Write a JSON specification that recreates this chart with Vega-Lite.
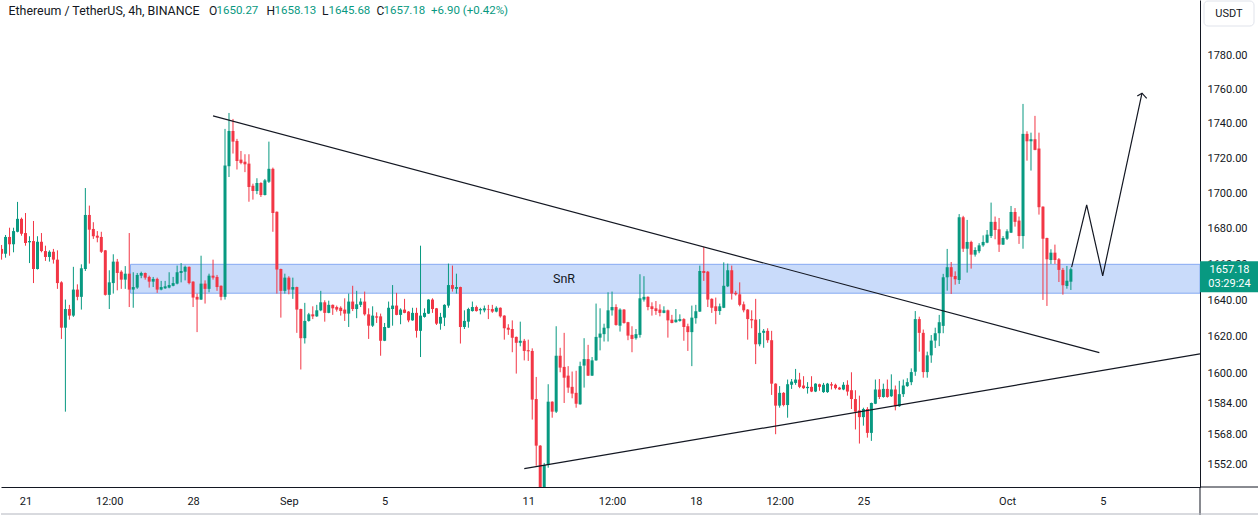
{
"$schema":"https://vega.github.io/schema/vega-lite/v6.json",
"width":1199,"height":487,"padding":0,"background":"white",
"config":{"view":{"stroke":null},"font":"Roboto","scale":{"continuousPadding":0},"axis":{"grid":false,"ticks":false}},
"datasets":{
"candles":[
{"t":"2023-08-20T00:00Z","o":1668.5,"h":1670.7,"l":1662.5,"c":1665.8},
{"t":"2023-08-20T04:00Z","o":1665.8,"h":1676.3,"l":1663.6,"c":1675.2},
{"t":"2023-08-20T08:00Z","o":1675.2,"h":1680.4,"l":1664.7,"c":1671.1},
{"t":"2023-08-20T12:00Z","o":1671.1,"h":1680.4,"l":1666.6,"c":1678.5},
{"t":"2023-08-20T16:00Z","o":1678.1,"h":1695.0,"l":1677.8,"c":1685.4},
{"t":"2023-08-20T20:00Z","o":1685.4,"h":1686.1,"l":1675.9,"c":1677.0},
{"t":"2023-08-21T00:00Z","o":1677.4,"h":1688.7,"l":1670.3,"c":1671.8},
{"t":"2023-08-21T04:00Z","o":1672.2,"h":1675.6,"l":1660.6,"c":1672.9},
{"t":"2023-08-21T08:00Z","o":1672.9,"h":1684.2,"l":1649.5,"c":1657.3},
{"t":"2023-08-21T12:00Z","o":1657.3,"h":1675.6,"l":1657.0,"c":1672.5},
{"t":"2023-08-21T16:00Z","o":1672.5,"h":1677.4,"l":1666.6,"c":1667.3},
{"t":"2023-08-21T20:00Z","o":1667.3,"h":1670.3,"l":1661.8,"c":1664.0},
{"t":"2023-08-22T00:00Z","o":1664.0,"h":1667.7,"l":1661.4,"c":1666.9},
{"t":"2023-08-22T04:00Z","o":1666.9,"h":1668.5,"l":1660.3,"c":1662.5},
{"t":"2023-08-22T08:00Z","o":1662.5,"h":1667.7,"l":1646.3,"c":1649.5},
{"t":"2023-08-22T12:00Z","o":1649.9,"h":1650.5,"l":1618.9,"c":1625.0},
{"t":"2023-08-22T16:00Z","o":1625.0,"h":1640.4,"l":1579.9,"c":1635.2},
{"t":"2023-08-22T20:00Z","o":1635.2,"h":1637.5,"l":1629.4,"c":1631.6},
{"t":"2023-08-23T00:00Z","o":1631.6,"h":1658.5,"l":1630.9,"c":1645.9},
{"t":"2023-08-23T04:00Z","o":1645.9,"h":1648.8,"l":1640.0,"c":1641.9},
{"t":"2023-08-23T08:00Z","o":1641.9,"h":1659.9,"l":1634.9,"c":1657.7},
{"t":"2023-08-23T12:00Z","o":1657.3,"h":1702.9,"l":1656.2,"c":1687.6},
{"t":"2023-08-23T16:00Z","o":1687.6,"h":1692.9,"l":1660.3,"c":1679.3},
{"t":"2023-08-23T20:00Z","o":1679.7,"h":1683.5,"l":1674.1,"c":1675.6},
{"t":"2023-08-24T00:00Z","o":1675.9,"h":1678.5,"l":1672.2,"c":1674.8},
{"t":"2023-08-24T04:00Z","o":1675.2,"h":1678.1,"l":1666.2,"c":1666.9},
{"t":"2023-08-24T08:00Z","o":1667.7,"h":1667.9,"l":1642.6,"c":1643.0},
{"t":"2023-08-24T12:00Z","o":1643.0,"h":1656.6,"l":1635.2,"c":1649.9},
{"t":"2023-08-24T16:00Z","o":1649.5,"h":1665.5,"l":1643.7,"c":1661.4},
{"t":"2023-08-24T20:00Z","o":1661.4,"h":1662.9,"l":1645.5,"c":1655.1},
{"t":"2023-08-25T00:00Z","o":1655.8,"h":1656.6,"l":1646.3,"c":1651.4},
{"t":"2023-08-25T04:00Z","o":1651.4,"h":1658.9,"l":1646.3,"c":1654.7},
{"t":"2023-08-25T08:00Z","o":1654.7,"h":1677.4,"l":1636.3,"c":1645.9},
{"t":"2023-08-25T12:00Z","o":1645.9,"h":1655.5,"l":1635.9,"c":1647.3},
{"t":"2023-08-25T16:00Z","o":1647.0,"h":1655.1,"l":1646.3,"c":1654.0},
{"t":"2023-08-25T20:00Z","o":1653.6,"h":1655.8,"l":1652.2,"c":1655.1},
{"t":"2023-08-26T00:00Z","o":1655.1,"h":1655.3,"l":1651.4,"c":1652.5},
{"t":"2023-08-26T04:00Z","o":1652.9,"h":1653.6,"l":1647.0,"c":1650.3},
{"t":"2023-08-26T08:00Z","o":1650.3,"h":1652.9,"l":1647.3,"c":1651.8},
{"t":"2023-08-26T12:00Z","o":1651.8,"h":1652.5,"l":1644.1,"c":1645.9},
{"t":"2023-08-26T16:00Z","o":1645.9,"h":1650.7,"l":1645.5,"c":1647.3},
{"t":"2023-08-26T20:00Z","o":1646.6,"h":1650.7,"l":1646.3,"c":1647.7},
{"t":"2023-08-27T00:00Z","o":1647.0,"h":1655.5,"l":1646.6,"c":1648.4},
{"t":"2023-08-27T04:00Z","o":1648.0,"h":1652.9,"l":1647.7,"c":1649.5},
{"t":"2023-08-27T08:00Z","o":1649.2,"h":1659.2,"l":1648.8,"c":1655.5},
{"t":"2023-08-27T12:00Z","o":1655.1,"h":1660.6,"l":1649.9,"c":1656.2},
{"t":"2023-08-27T16:00Z","o":1655.8,"h":1659.2,"l":1651.0,"c":1658.5},
{"t":"2023-08-27T20:00Z","o":1658.5,"h":1658.7,"l":1648.8,"c":1649.5},
{"t":"2023-08-28T00:00Z","o":1650.3,"h":1650.5,"l":1636.3,"c":1641.5},
{"t":"2023-08-28T04:00Z","o":1641.9,"h":1643.7,"l":1622.6,"c":1640.4},
{"t":"2023-08-28T08:00Z","o":1640.4,"h":1664.7,"l":1640.2,"c":1649.2},
{"t":"2023-08-28T12:00Z","o":1649.2,"h":1651.0,"l":1638.2,"c":1646.3},
{"t":"2023-08-28T16:00Z","o":1646.3,"h":1654.7,"l":1644.4,"c":1653.6},
{"t":"2023-08-28T20:00Z","o":1653.6,"h":1662.5,"l":1651.4,"c":1652.5},
{"t":"2023-08-29T00:00Z","o":1652.9,"h":1654.0,"l":1645.2,"c":1647.3},
{"t":"2023-08-29T04:00Z","o":1648.0,"h":1648.2,"l":1640.0,"c":1641.9},
{"t":"2023-08-29T08:00Z","o":1641.9,"h":1737.0,"l":1640.4,"c":1715.8},
{"t":"2023-08-29T12:00Z","o":1715.4,"h":1746.3,"l":1709.2,"c":1735.8},
{"t":"2023-08-29T16:00Z","o":1735.8,"h":1742.8,"l":1722.7,"c":1729.6},
{"t":"2023-08-29T20:00Z","o":1730.0,"h":1731.2,"l":1713.5,"c":1718.4},
{"t":"2023-08-30T00:00Z","o":1719.2,"h":1724.2,"l":1716.5,"c":1717.3},
{"t":"2023-08-30T04:00Z","o":1718.0,"h":1722.3,"l":1712.0,"c":1716.5},
{"t":"2023-08-30T08:00Z","o":1716.9,"h":1722.3,"l":1695.1,"c":1703.5},
{"t":"2023-08-30T12:00Z","o":1704.2,"h":1705.4,"l":1696.3,"c":1701.2},
{"t":"2023-08-30T16:00Z","o":1701.2,"h":1708.5,"l":1699.4,"c":1705.8},
{"t":"2023-08-30T20:00Z","o":1705.8,"h":1706.2,"l":1697.8,"c":1698.9},
{"t":"2023-08-31T00:00Z","o":1698.9,"h":1708.1,"l":1698.7,"c":1707.3},
{"t":"2023-08-31T04:00Z","o":1706.5,"h":1729.6,"l":1705.8,"c":1713.9},
{"t":"2023-08-31T08:00Z","o":1713.9,"h":1714.6,"l":1678.1,"c":1688.7},
{"t":"2023-08-31T12:00Z","o":1689.4,"h":1689.6,"l":1643.7,"c":1657.0},
{"t":"2023-08-31T16:00Z","o":1657.3,"h":1657.5,"l":1630.5,"c":1645.2},
{"t":"2023-08-31T20:00Z","o":1645.2,"h":1654.7,"l":1643.7,"c":1652.5},
{"t":"2023-09-01T00:00Z","o":1652.5,"h":1653.3,"l":1643.3,"c":1645.9},
{"t":"2023-09-01T04:00Z","o":1645.9,"h":1652.5,"l":1640.8,"c":1647.3},
{"t":"2023-09-01T08:00Z","o":1647.3,"h":1647.5,"l":1622.2,"c":1634.9},
{"t":"2023-09-01T12:00Z","o":1635.2,"h":1635.4,"l":1602.4,"c":1619.3},
{"t":"2023-09-01T16:00Z","o":1619.3,"h":1638.6,"l":1616.4,"c":1628.7},
{"t":"2023-09-01T20:00Z","o":1628.7,"h":1633.1,"l":1628.3,"c":1632.3},
{"t":"2023-09-02T00:00Z","o":1632.3,"h":1636.7,"l":1629.7,"c":1631.2},
{"t":"2023-09-02T04:00Z","o":1631.2,"h":1637.5,"l":1630.9,"c":1634.5},
{"t":"2023-09-02T08:00Z","o":1634.5,"h":1645.2,"l":1634.0,"c":1638.9},
{"t":"2023-09-02T12:00Z","o":1638.9,"h":1640.0,"l":1628.3,"c":1633.1},
{"t":"2023-09-02T16:00Z","o":1633.1,"h":1639.8,"l":1632.9,"c":1637.5},
{"t":"2023-09-02T20:00Z","o":1637.5,"h":1637.7,"l":1632.0,"c":1635.6},
{"t":"2023-09-03T00:00Z","o":1636.3,"h":1637.1,"l":1633.8,"c":1634.9},
{"t":"2023-09-03T04:00Z","o":1635.9,"h":1636.7,"l":1631.6,"c":1634.1},
{"t":"2023-09-03T08:00Z","o":1634.9,"h":1641.1,"l":1628.7,"c":1632.7},
{"t":"2023-09-03T12:00Z","o":1632.7,"h":1643.7,"l":1625.4,"c":1639.3},
{"t":"2023-09-03T16:00Z","o":1639.3,"h":1648.0,"l":1634.1,"c":1635.2},
{"t":"2023-09-03T20:00Z","o":1635.2,"h":1645.2,"l":1630.2,"c":1637.8},
{"t":"2023-09-04T00:00Z","o":1637.5,"h":1641.1,"l":1636.3,"c":1639.3},
{"t":"2023-09-04T04:00Z","o":1639.3,"h":1644.8,"l":1631.6,"c":1632.3},
{"t":"2023-09-04T08:00Z","o":1632.3,"h":1635.6,"l":1618.9,"c":1626.1},
{"t":"2023-09-04T12:00Z","o":1626.1,"h":1636.7,"l":1625.4,"c":1631.6},
{"t":"2023-09-04T16:00Z","o":1631.2,"h":1633.4,"l":1627.6,"c":1630.5},
{"t":"2023-09-04T20:00Z","o":1631.2,"h":1632.7,"l":1609.8,"c":1617.9},
{"t":"2023-09-05T00:00Z","o":1617.9,"h":1627.6,"l":1617.7,"c":1625.4},
{"t":"2023-09-05T04:00Z","o":1625.0,"h":1639.3,"l":1624.8,"c":1635.9},
{"t":"2023-09-05T08:00Z","o":1635.2,"h":1648.4,"l":1626.1,"c":1637.1},
{"t":"2023-09-05T12:00Z","o":1637.1,"h":1644.1,"l":1631.8,"c":1632.0},
{"t":"2023-09-05T16:00Z","o":1632.0,"h":1635.6,"l":1626.9,"c":1634.9},
{"t":"2023-09-05T20:00Z","o":1634.9,"h":1640.8,"l":1632.9,"c":1633.1},
{"t":"2023-09-06T00:00Z","o":1633.8,"h":1634.1,"l":1628.0,"c":1629.0},
{"t":"2023-09-06T04:00Z","o":1629.0,"h":1635.9,"l":1628.8,"c":1633.1},
{"t":"2023-09-06T08:00Z","o":1633.1,"h":1635.9,"l":1619.6,"c":1623.3},
{"t":"2023-09-06T12:00Z","o":1623.3,"h":1670.3,"l":1609.1,"c":1631.6},
{"t":"2023-09-06T16:00Z","o":1630.9,"h":1635.6,"l":1630.5,"c":1633.1},
{"t":"2023-09-06T20:00Z","o":1632.7,"h":1640.6,"l":1632.5,"c":1640.4},
{"t":"2023-09-07T00:00Z","o":1640.4,"h":1641.1,"l":1633.1,"c":1635.2},
{"t":"2023-09-07T04:00Z","o":1635.6,"h":1635.8,"l":1626.5,"c":1627.2},
{"t":"2023-09-07T08:00Z","o":1627.2,"h":1633.1,"l":1623.9,"c":1630.9},
{"t":"2023-09-07T12:00Z","o":1630.5,"h":1637.8,"l":1625.9,"c":1637.5},
{"t":"2023-09-07T16:00Z","o":1637.1,"h":1660.3,"l":1635.9,"c":1648.4},
{"t":"2023-09-07T20:00Z","o":1648.4,"h":1659.2,"l":1644.8,"c":1646.3},
{"t":"2023-09-08T00:00Z","o":1646.3,"h":1654.7,"l":1643.7,"c":1647.3},
{"t":"2023-09-08T04:00Z","o":1647.3,"h":1647.5,"l":1616.4,"c":1625.4},
{"t":"2023-09-08T08:00Z","o":1625.4,"h":1634.5,"l":1624.3,"c":1628.7},
{"t":"2023-09-08T12:00Z","o":1628.3,"h":1635.9,"l":1625.0,"c":1635.2},
{"t":"2023-09-08T16:00Z","o":1634.1,"h":1639.3,"l":1633.8,"c":1636.3},
{"t":"2023-09-08T20:00Z","o":1636.3,"h":1637.1,"l":1633.8,"c":1634.1},
{"t":"2023-09-09T00:00Z","o":1634.5,"h":1635.9,"l":1632.3,"c":1635.2},
{"t":"2023-09-09T04:00Z","o":1634.5,"h":1637.1,"l":1633.4,"c":1635.6},
{"t":"2023-09-09T08:00Z","o":1635.2,"h":1637.5,"l":1629.7,"c":1634.9},
{"t":"2023-09-09T12:00Z","o":1635.2,"h":1637.5,"l":1633.1,"c":1633.8},
{"t":"2023-09-09T16:00Z","o":1633.8,"h":1636.7,"l":1633.4,"c":1635.9},
{"t":"2023-09-09T20:00Z","o":1635.9,"h":1636.1,"l":1630.5,"c":1631.2},
{"t":"2023-09-10T00:00Z","o":1631.6,"h":1631.8,"l":1618.5,"c":1624.7},
{"t":"2023-09-10T04:00Z","o":1625.0,"h":1626.9,"l":1621.1,"c":1623.9},
{"t":"2023-09-10T08:00Z","o":1624.3,"h":1629.0,"l":1611.7,"c":1619.6},
{"t":"2023-09-10T12:00Z","o":1620.0,"h":1620.2,"l":1600.2,"c":1616.8},
{"t":"2023-09-10T16:00Z","o":1616.8,"h":1628.3,"l":1614.9,"c":1617.9},
{"t":"2023-09-10T20:00Z","o":1617.9,"h":1618.9,"l":1607.3,"c":1612.4},
{"t":"2023-09-11T00:00Z","o":1612.8,"h":1618.5,"l":1607.0,"c":1612.2},
{"t":"2023-09-11T04:00Z","o":1612.4,"h":1613.8,"l":1575.7,"c":1586.3},
{"t":"2023-09-11T08:00Z","o":1586.6,"h":1598.4,"l":1551.5,"c":1562.0},
{"t":"2023-09-11T12:00Z","o":1562.0,"h":1562.3,"l":1531.0,"c":1538.0},
{"t":"2023-09-11T16:00Z","o":1538.0,"h":1553.0,"l":1532.0,"c":1551.9},
{"t":"2023-09-11T20:00Z","o":1551.9,"h":1594.5,"l":1550.5,"c":1585.2},
{"t":"2023-09-12T00:00Z","o":1585.2,"h":1585.4,"l":1576.7,"c":1579.9},
{"t":"2023-09-12T04:00Z","o":1579.9,"h":1625.8,"l":1579.2,"c":1609.8},
{"t":"2023-09-12T08:00Z","o":1609.8,"h":1614.1,"l":1600.9,"c":1603.4},
{"t":"2023-09-12T12:00Z","o":1603.8,"h":1622.2,"l":1584.5,"c":1598.0},
{"t":"2023-09-12T16:00Z","o":1599.1,"h":1604.2,"l":1589.9,"c":1592.7},
{"t":"2023-09-12T20:00Z","o":1593.1,"h":1601.3,"l":1587.0,"c":1589.5},
{"t":"2023-09-13T00:00Z","o":1589.9,"h":1601.7,"l":1582.0,"c":1584.1},
{"t":"2023-09-13T04:00Z","o":1583.8,"h":1606.6,"l":1583.6,"c":1604.2},
{"t":"2023-09-13T08:00Z","o":1604.5,"h":1619.3,"l":1592.7,"c":1608.0},
{"t":"2023-09-13T12:00Z","o":1608.0,"h":1615.7,"l":1598.9,"c":1599.1},
{"t":"2023-09-13T16:00Z","o":1599.1,"h":1609.1,"l":1598.9,"c":1607.3},
{"t":"2023-09-13T20:00Z","o":1607.3,"h":1638.2,"l":1607.1,"c":1620.0},
{"t":"2023-09-14T00:00Z","o":1619.6,"h":1635.6,"l":1612.7,"c":1621.8},
{"t":"2023-09-14T04:00Z","o":1621.5,"h":1627.2,"l":1617.5,"c":1625.0},
{"t":"2023-09-14T08:00Z","o":1624.7,"h":1644.4,"l":1617.5,"c":1634.5},
{"t":"2023-09-14T12:00Z","o":1634.5,"h":1644.8,"l":1631.6,"c":1636.3},
{"t":"2023-09-14T16:00Z","o":1636.3,"h":1637.8,"l":1626.1,"c":1626.5},
{"t":"2023-09-14T20:00Z","o":1626.1,"h":1635.6,"l":1622.9,"c":1634.9},
{"t":"2023-09-15T00:00Z","o":1634.9,"h":1635.2,"l":1627.2,"c":1627.6},
{"t":"2023-09-15T04:00Z","o":1628.0,"h":1628.2,"l":1618.2,"c":1620.7},
{"t":"2023-09-15T08:00Z","o":1621.1,"h":1625.8,"l":1611.7,"c":1618.9},
{"t":"2023-09-15T12:00Z","o":1619.3,"h":1624.3,"l":1618.5,"c":1621.5},
{"t":"2023-09-15T16:00Z","o":1621.1,"h":1654.4,"l":1619.6,"c":1641.1},
{"t":"2023-09-15T20:00Z","o":1640.4,"h":1653.3,"l":1639.3,"c":1641.9},
{"t":"2023-09-16T00:00Z","o":1641.9,"h":1642.2,"l":1634.5,"c":1636.3},
{"t":"2023-09-16T04:00Z","o":1636.7,"h":1638.9,"l":1631.6,"c":1635.2},
{"t":"2023-09-16T08:00Z","o":1635.6,"h":1639.6,"l":1632.0,"c":1634.1},
{"t":"2023-09-16T12:00Z","o":1634.9,"h":1637.8,"l":1631.2,"c":1633.1},
{"t":"2023-09-16T16:00Z","o":1633.1,"h":1636.7,"l":1632.9,"c":1634.5},
{"t":"2023-09-16T20:00Z","o":1634.5,"h":1634.9,"l":1619.6,"c":1629.0},
{"t":"2023-09-17T00:00Z","o":1629.4,"h":1632.0,"l":1627.4,"c":1627.6},
{"t":"2023-09-17T04:00Z","o":1628.0,"h":1635.2,"l":1627.8,"c":1629.4},
{"t":"2023-09-17T08:00Z","o":1628.7,"h":1632.3,"l":1628.3,"c":1629.7},
{"t":"2023-09-17T12:00Z","o":1629.7,"h":1630.2,"l":1617.9,"c":1625.4},
{"t":"2023-09-17T16:00Z","o":1625.8,"h":1627.2,"l":1612.4,"c":1622.6},
{"t":"2023-09-17T20:00Z","o":1622.6,"h":1637.1,"l":1604.2,"c":1630.5},
{"t":"2023-09-18T00:00Z","o":1630.2,"h":1637.5,"l":1627.2,"c":1634.0},
{"t":"2023-09-18T04:00Z","o":1633.8,"h":1659.2,"l":1633.6,"c":1656.2},
{"t":"2023-09-18T08:00Z","o":1656.2,"h":1669.6,"l":1650.7,"c":1655.1},
{"t":"2023-09-18T12:00Z","o":1655.8,"h":1656.2,"l":1636.3,"c":1640.4},
{"t":"2023-09-18T16:00Z","o":1640.8,"h":1641.1,"l":1633.1,"c":1635.9},
{"t":"2023-09-18T20:00Z","o":1636.7,"h":1641.5,"l":1626.9,"c":1634.1},
{"t":"2023-09-19T00:00Z","o":1634.1,"h":1638.2,"l":1632.0,"c":1636.7},
{"t":"2023-09-19T04:00Z","o":1635.9,"h":1661.0,"l":1635.7,"c":1648.0},
{"t":"2023-09-19T08:00Z","o":1647.7,"h":1660.3,"l":1647.3,"c":1656.6},
{"t":"2023-09-19T12:00Z","o":1656.6,"h":1659.2,"l":1640.4,"c":1643.7},
{"t":"2023-09-19T16:00Z","o":1644.1,"h":1645.2,"l":1642.6,"c":1643.3},
{"t":"2023-09-19T20:00Z","o":1643.3,"h":1649.9,"l":1636.7,"c":1637.5},
{"t":"2023-09-20T00:00Z","o":1637.8,"h":1639.3,"l":1633.4,"c":1634.5},
{"t":"2023-09-20T04:00Z","o":1634.9,"h":1635.2,"l":1618.5,"c":1629.7},
{"t":"2023-09-20T08:00Z","o":1629.7,"h":1634.5,"l":1624.7,"c":1629.0},
{"t":"2023-09-20T12:00Z","o":1629.4,"h":1640.8,"l":1605.3,"c":1616.0},
{"t":"2023-09-20T16:00Z","o":1616.0,"h":1629.7,"l":1614.9,"c":1622.2},
{"t":"2023-09-20T20:00Z","o":1622.2,"h":1624.3,"l":1614.1,"c":1623.3},
{"t":"2023-09-21T00:00Z","o":1623.3,"h":1624.7,"l":1616.8,"c":1618.2},
{"t":"2023-09-21T04:00Z","o":1618.2,"h":1623.3,"l":1588.8,"c":1594.8},
{"t":"2023-09-21T08:00Z","o":1594.8,"h":1595.0,"l":1568.0,"c":1583.1},
{"t":"2023-09-21T12:00Z","o":1583.1,"h":1593.5,"l":1582.0,"c":1589.9},
{"t":"2023-09-21T16:00Z","o":1589.9,"h":1590.3,"l":1582.7,"c":1583.4},
{"t":"2023-09-21T20:00Z","o":1583.4,"h":1597.0,"l":1576.7,"c":1594.5},
{"t":"2023-09-22T00:00Z","o":1594.2,"h":1597.3,"l":1592.0,"c":1595.9},
{"t":"2023-09-22T04:00Z","o":1595.2,"h":1602.7,"l":1594.2,"c":1597.0},
{"t":"2023-09-22T08:00Z","o":1597.0,"h":1600.6,"l":1592.4,"c":1593.1},
{"t":"2023-09-22T12:00Z","o":1593.8,"h":1598.8,"l":1592.0,"c":1592.4},
{"t":"2023-09-22T16:00Z","o":1592.4,"h":1595.6,"l":1589.5,"c":1593.1},
{"t":"2023-09-22T20:00Z","o":1593.1,"h":1598.8,"l":1590.3,"c":1590.6},
{"t":"2023-09-23T00:00Z","o":1590.6,"h":1595.0,"l":1590.3,"c":1594.8},
{"t":"2023-09-23T04:00Z","o":1594.5,"h":1594.8,"l":1591.0,"c":1593.1},
{"t":"2023-09-23T08:00Z","o":1590.3,"h":1595.2,"l":1589.9,"c":1594.2},
{"t":"2023-09-23T12:00Z","o":1590.3,"h":1595.2,"l":1589.9,"c":1594.8},
{"t":"2023-09-23T16:00Z","o":1594.5,"h":1595.6,"l":1591.7,"c":1593.8},
{"t":"2023-09-23T20:00Z","o":1594.2,"h":1594.8,"l":1591.7,"c":1592.4},
{"t":"2023-09-24T00:00Z","o":1592.7,"h":1593.1,"l":1591.5,"c":1591.7},
{"t":"2023-09-24T04:00Z","o":1591.7,"h":1595.6,"l":1591.3,"c":1594.2},
{"t":"2023-09-24T08:00Z","o":1594.2,"h":1596.6,"l":1588.4,"c":1590.6},
{"t":"2023-09-24T12:00Z","o":1591.3,"h":1600.9,"l":1581.3,"c":1586.6},
{"t":"2023-09-24T16:00Z","o":1586.6,"h":1591.3,"l":1570.5,"c":1579.9},
{"t":"2023-09-24T20:00Z","o":1580.6,"h":1588.4,"l":1563.1,"c":1577.0},
{"t":"2023-09-25T00:00Z","o":1577.0,"h":1582.0,"l":1572.5,"c":1581.3},
{"t":"2023-09-25T04:00Z","o":1581.3,"h":1582.3,"l":1566.2,"c":1568.7},
{"t":"2023-09-25T08:00Z","o":1568.7,"h":1584.7,"l":1564.5,"c":1584.5},
{"t":"2023-09-25T12:00Z","o":1584.1,"h":1597.0,"l":1583.9,"c":1591.7},
{"t":"2023-09-25T16:00Z","o":1591.7,"h":1597.3,"l":1586.6,"c":1587.7},
{"t":"2023-09-25T20:00Z","o":1587.7,"h":1594.8,"l":1587.3,"c":1592.0},
{"t":"2023-09-26T00:00Z","o":1592.0,"h":1597.0,"l":1587.3,"c":1587.7},
{"t":"2023-09-26T04:00Z","o":1588.1,"h":1599.8,"l":1587.7,"c":1591.7},
{"t":"2023-09-26T08:00Z","o":1591.7,"h":1593.8,"l":1580.6,"c":1582.8},
{"t":"2023-09-26T12:00Z","o":1582.8,"h":1596.3,"l":1582.4,"c":1589.2},
{"t":"2023-09-26T16:00Z","o":1589.2,"h":1597.0,"l":1587.7,"c":1593.8},
{"t":"2023-09-26T20:00Z","o":1593.5,"h":1597.7,"l":1593.1,"c":1595.6},
{"t":"2023-09-27T00:00Z","o":1595.6,"h":1603.0,"l":1594.0,"c":1601.0},
{"t":"2023-09-27T04:00Z","o":1601.2,"h":1634.1,"l":1599.0,"c":1629.7},
{"t":"2023-09-27T08:00Z","o":1629.7,"h":1631.0,"l":1612.0,"c":1622.2},
{"t":"2023-09-27T12:00Z","o":1622.2,"h":1624.0,"l":1598.0,"c":1601.0},
{"t":"2023-09-27T16:00Z","o":1601.0,"h":1612.0,"l":1598.0,"c":1610.0},
{"t":"2023-09-27T20:00Z","o":1610.0,"h":1621.0,"l":1606.0,"c":1618.0},
{"t":"2023-09-28T00:00Z","o":1618.0,"h":1625.0,"l":1614.0,"c":1622.0},
{"t":"2023-09-28T04:00Z","o":1622.0,"h":1632.0,"l":1615.0,"c":1628.0},
{"t":"2023-09-28T08:00Z","o":1626.0,"h":1654.6,"l":1622.0,"c":1652.7},
{"t":"2023-09-28T12:00Z","o":1652.7,"h":1668.5,"l":1645.3,"c":1658.3},
{"t":"2023-09-28T16:00Z","o":1658.3,"h":1661.2,"l":1643.5,"c":1653.0},
{"t":"2023-09-28T20:00Z","o":1653.4,"h":1656.0,"l":1648.6,"c":1651.6},
{"t":"2023-09-29T00:00Z","o":1651.2,"h":1688.1,"l":1649.0,"c":1686.3},
{"t":"2023-09-29T04:00Z","o":1686.3,"h":1687.1,"l":1666.8,"c":1668.6},
{"t":"2023-09-29T08:00Z","o":1668.6,"h":1684.8,"l":1655.3,"c":1672.4},
{"t":"2023-09-29T12:00Z","o":1672.4,"h":1673.1,"l":1657.5,"c":1665.3},
{"t":"2023-09-29T16:00Z","o":1665.3,"h":1669.4,"l":1664.2,"c":1667.9},
{"t":"2023-09-29T20:00Z","o":1667.2,"h":1671.7,"l":1666.1,"c":1670.5},
{"t":"2023-09-30T00:00Z","o":1670.5,"h":1676.1,"l":1669.7,"c":1672.4},
{"t":"2023-09-30T04:00Z","o":1672.0,"h":1679.1,"l":1671.7,"c":1676.5},
{"t":"2023-09-30T08:00Z","o":1675.7,"h":1694.6,"l":1674.6,"c":1683.7},
{"t":"2023-09-30T12:00Z","o":1683.7,"h":1686.7,"l":1673.9,"c":1679.1},
{"t":"2023-09-30T16:00Z","o":1679.5,"h":1685.9,"l":1666.8,"c":1670.9},
{"t":"2023-09-30T20:00Z","o":1670.9,"h":1675.7,"l":1670.7,"c":1674.6},
{"t":"2023-10-01T00:00Z","o":1674.2,"h":1679.5,"l":1673.5,"c":1678.4},
{"t":"2023-10-01T04:00Z","o":1677.6,"h":1692.7,"l":1677.4,"c":1689.3},
{"t":"2023-10-01T08:00Z","o":1689.3,"h":1691.5,"l":1681.0,"c":1683.7},
{"t":"2023-10-01T12:00Z","o":1684.4,"h":1686.7,"l":1671.3,"c":1675.7},
{"t":"2023-10-01T16:00Z","o":1675.7,"h":1751.6,"l":1668.6,"c":1734.1},
{"t":"2023-10-01T20:00Z","o":1734.1,"h":1735.6,"l":1718.6,"c":1729.8},
{"t":"2023-10-02T00:00Z","o":1729.8,"h":1734.8,"l":1712.9,"c":1731.0},
{"t":"2023-10-02T04:00Z","o":1731.0,"h":1744.6,"l":1724.6,"c":1724.8},
{"t":"2023-10-02T08:00Z","o":1725.6,"h":1734.8,"l":1687.8,"c":1692.0},
{"t":"2023-10-02T12:00Z","o":1692.3,"h":1692.5,"l":1640.2,"c":1674.2},
{"t":"2023-10-02T16:00Z","o":1674.6,"h":1674.8,"l":1636.9,"c":1662.7},
{"t":"2023-10-02T20:00Z","o":1662.3,"h":1668.3,"l":1660.1,"c":1666.4},
{"t":"2023-10-03T00:00Z","o":1666.4,"h":1670.9,"l":1660.1,"c":1662.3},
{"t":"2023-10-03T04:00Z","o":1662.7,"h":1663.4,"l":1650.1,"c":1656.8},
{"t":"2023-10-03T08:00Z","o":1656.8,"h":1657.9,"l":1643.1,"c":1648.3},
{"t":"2023-10-03T12:00Z","o":1647.9,"h":1659.0,"l":1646.4,"c":1650.8},
{"t":"2023-10-03T16:00Z","o":1650.27,"h":1658.13,"l":1645.68,"c":1657.18}
],
"lines":[
{"id":"d","s":0,"t":"2023-08-28T19:58Z","p":1744.6},
{"id":"d","s":1,"t":"2023-10-04T20:30Z","p":1611.5},
{"id":"u","s":0,"t":"2023-09-10T20:00Z","p":1550.0},
{"id":"u","s":1,"t":"2023-10-09T01:26Z","p":1610.8},
{"id":"a","s":0,"t":"2023-10-03T16:45Z","p":1658.3},
{"id":"a","s":1,"t":"2023-10-04T07:50Z","p":1693.3},
{"id":"a","s":2,"t":"2023-10-04T23:54Z","p":1653.5},
{"id":"a","s":3,"t":"2023-10-06T15:17Z","p":1757.9},
{"id":"h","s":0,"t":"2023-10-06T10:34Z","p":1756.3},
{"id":"h","s":1,"t":"2023-10-06T15:17Z","p":1757.9},
{"id":"h","s":2,"t":"2023-10-06T20:00Z","p":1754.9}
]
},
"layer":[
{"data":{"values":[{"t0":"2023-08-25T09:15Z","t1":"2023-10-09T01:26Z","lo":1643.9,"hi":1659.9}]},
 "mark":{"type":"rect","fill":"#c9dbfa","stroke":"#86aaf2","strokeWidth":1,"clip":true},
 "encoding":{
  "x":{"field":"t0","type":"temporal","title":null,
   "scale":{"type":"utc","padding":0,"domain":[{"year":2023,"month":8,"date":19,"hours":23,"minutes":26,"utc":true},{"year":2023,"month":10,"date":9,"hours":1,"minutes":26,"utc":true}]},
   "axis":{"values":[{"year":2023,"month":8,"date":21,"utc":true},{"year":2023,"month":8,"date":24,"hours":12,"utc":true},{"year":2023,"month":8,"date":28,"utc":true},{"year":2023,"month":9,"date":1,"utc":true},{"year":2023,"month":9,"date":5,"utc":true},{"year":2023,"month":9,"date":11,"utc":true},{"year":2023,"month":9,"date":14,"hours":12,"utc":true},{"year":2023,"month":9,"date":18,"utc":true},{"year":2023,"month":9,"date":21,"hours":12,"utc":true},{"year":2023,"month":9,"date":25,"utc":true},{"year":2023,"month":10,"date":1,"utc":true},{"year":2023,"month":10,"date":5,"utc":true}],
    "labelExpr":"utchours(datum.value) == 12 ? '12:00' : (utcdate(datum.value) == 1 ? utcFormat(datum.value, '%b') : utcFormat(datum.value, '%-d'))",
    "labelPadding":8,"ticks":false,"grid":false,"domainColor":"#131722","domainWidth":1,"labelColor":"#131722","labelFont":"Roboto","labelFontSize":11,"labelOverlap":false,"labelFlush":false,"title":null}},
  "x2":{"field":"t1"},
  "y":{"field":"hi","type":"quantitative","title":null,
   "scale":{"type":"log","domain":[1540.5,1813.7],"nice":false,"zero":false,"padding":0},
   "axis":{"orient":"right","values":[1552,1568,1584,1600,1620,1640,1660,1680,1700,1720,1740,1760,1780],"format":".2f","labelPadding":7,"ticks":false,"grid":false,"domainColor":"#131722","domainWidth":1,"labelColor":"#131722","labelFont":"Roboto","labelFontSize":11,"labelFlush":false,"labelOverlap":false,"title":null}},
  "y2":{"field":"lo"}}},
{"data":{"values":[{"t":"2023-09-12T11:50Z","p":1651.5,"txt":"SnR"}]},
 "mark":{"type":"text","font":"Roboto","fontSize":12.5,"color":"#131722","align":"center","baseline":"middle"},
 "encoding":{"x":{"field":"t","type":"temporal","title":null},"y":{"field":"p","type":"quantitative","title":null},"text":{"field":"txt"}}},
{"data":{"name":"candles"},
 "mark":{"type":"rule","strokeWidth":1,"clip":true},
 "encoding":{"x":{"field":"t","type":"temporal","title":null},"y":{"field":"l","type":"quantitative","title":null},"y2":{"field":"h"},
  "color":{"condition":{"test":"datum.c >= datum.o","value":"#089981"},"value":"#f23645"}}},
{"data":{"name":"candles"},
 "mark":{"type":"bar","width":3,"clip":true},
 "encoding":{"x":{"field":"t","type":"temporal","title":null},"y":{"field":"o","type":"quantitative","title":null},"y2":{"field":"c"},
  "color":{"condition":{"test":"datum.c >= datum.o","value":"#089981"},"value":"#f23645"}}},
{"data":{"name":"lines"},
 "mark":{"type":"line","color":"#131722","strokeWidth":1.2,"clip":true},
 "encoding":{"x":{"field":"t","type":"temporal","title":null},"y":{"field":"p","type":"quantitative","title":null},"detail":{"field":"id"},"order":{"field":"s","type":"quantitative"}}},
{"data":{"values":[{"txt":"Ethereum / TetherUS, 4h, BINANCE"}]},
 "mark":{"type":"text","font":"Roboto","fontSize":12.4,"color":"#131722","align":"left","baseline":"middle","dx":7.5,"dy":11},
 "encoding":{"x":{"datum":{"year":2023,"month":8,"date":19,"hours":23,"minutes":26,"utc":true},"type":"temporal","title":null},"y":{"datum":1813.7,"type":"quantitative","title":null},"text":{"field":"txt"}}},
{"data":{"values":[{"txt":"O"}]},
 "mark":{"type":"text","font":"Roboto","fontSize":12,"color":"#131722","align":"left","baseline":"middle","dx":208,"dy":11},
 "encoding":{"x":{"datum":{"year":2023,"month":8,"date":19,"hours":23,"minutes":26,"utc":true},"type":"temporal","title":null},"y":{"datum":1813.7,"type":"quantitative","title":null},"text":{"field":"txt"}}},
{"data":{"values":[{"txt":"1650.27"}]},
 "mark":{"type":"text","font":"Roboto","fontSize":11.5,"color":"#089981","align":"left","baseline":"middle","dx":215.5,"dy":11},
 "encoding":{"x":{"datum":{"year":2023,"month":8,"date":19,"hours":23,"minutes":26,"utc":true},"type":"temporal","title":null},"y":{"datum":1813.7,"type":"quantitative","title":null},"text":{"field":"txt"}}},
{"data":{"values":[{"txt":"H"}]},
 "mark":{"type":"text","font":"Roboto","fontSize":12,"color":"#131722","align":"left","baseline":"middle","dx":265.5,"dy":11},
 "encoding":{"x":{"datum":{"year":2023,"month":8,"date":19,"hours":23,"minutes":26,"utc":true},"type":"temporal","title":null},"y":{"datum":1813.7,"type":"quantitative","title":null},"text":{"field":"txt"}}},
{"data":{"values":[{"txt":"1658.13"}]},
 "mark":{"type":"text","font":"Roboto","fontSize":11.5,"color":"#089981","align":"left","baseline":"middle","dx":273.5,"dy":11},
 "encoding":{"x":{"datum":{"year":2023,"month":8,"date":19,"hours":23,"minutes":26,"utc":true},"type":"temporal","title":null},"y":{"datum":1813.7,"type":"quantitative","title":null},"text":{"field":"txt"}}},
{"data":{"values":[{"txt":"L"}]},
 "mark":{"type":"text","font":"Roboto","fontSize":12,"color":"#131722","align":"left","baseline":"middle","dx":321,"dy":11},
 "encoding":{"x":{"datum":{"year":2023,"month":8,"date":19,"hours":23,"minutes":26,"utc":true},"type":"temporal","title":null},"y":{"datum":1813.7,"type":"quantitative","title":null},"text":{"field":"txt"}}},
{"data":{"values":[{"txt":"1645.68"}]},
 "mark":{"type":"text","font":"Roboto","fontSize":11.5,"color":"#089981","align":"left","baseline":"middle","dx":327.5,"dy":11},
 "encoding":{"x":{"datum":{"year":2023,"month":8,"date":19,"hours":23,"minutes":26,"utc":true},"type":"temporal","title":null},"y":{"datum":1813.7,"type":"quantitative","title":null},"text":{"field":"txt"}}},
{"data":{"values":[{"txt":"C"}]},
 "mark":{"type":"text","font":"Roboto","fontSize":12,"color":"#131722","align":"left","baseline":"middle","dx":375.5,"dy":11},
 "encoding":{"x":{"datum":{"year":2023,"month":8,"date":19,"hours":23,"minutes":26,"utc":true},"type":"temporal","title":null},"y":{"datum":1813.7,"type":"quantitative","title":null},"text":{"field":"txt"}}},
{"data":{"values":[{"txt":"1657.18"}]},
 "mark":{"type":"text","font":"Roboto","fontSize":11.5,"color":"#089981","align":"left","baseline":"middle","dx":382.5,"dy":11},
 "encoding":{"x":{"datum":{"year":2023,"month":8,"date":19,"hours":23,"minutes":26,"utc":true},"type":"temporal","title":null},"y":{"datum":1813.7,"type":"quantitative","title":null},"text":{"field":"txt"}}},
{"data":{"values":[{"txt":"+6.90 (+0.42%)"}]},
 "mark":{"type":"text","font":"Roboto","fontSize":11.5,"color":"#089981","align":"left","baseline":"middle","dx":430,"dy":11},
 "encoding":{"x":{"datum":{"year":2023,"month":8,"date":19,"hours":23,"minutes":26,"utc":true},"type":"temporal","title":null},"y":{"datum":1813.7,"type":"quantitative","title":null},"text":{"field":"txt"}}},
{"data":{"values":[{}]},
 "mark":{"type":"rect","color":"#089981","x2Offset":59,"yOffset":-8,"y2Offset":23},
 "encoding":{"x":{"datum":{"year":2023,"month":10,"date":9,"hours":1,"minutes":26,"utc":true},"type":"temporal","title":null},"x2":{"datum":{"year":2023,"month":10,"date":9,"hours":1,"minutes":26,"utc":true}},"y":{"datum":1657.18,"type":"quantitative","title":null},"y2":{"datum":1657.18}}},
{"data":{"values":[{"txt":"1657.18"}]},
 "mark":{"type":"text","font":"Roboto","fontSize":11,"color":"white","align":"center","baseline":"middle","dx":29.5,"dy":0.5},
 "encoding":{"x":{"datum":{"year":2023,"month":10,"date":9,"hours":1,"minutes":26,"utc":true},"type":"temporal","title":null},"y":{"datum":1657.18,"type":"quantitative","title":null},"text":{"field":"txt"}}},
{"data":{"values":[{"txt":"03:29:24"}]},
 "mark":{"type":"text","font":"Roboto","fontSize":11,"color":"white","align":"center","baseline":"middle","dx":29.5,"dy":14.5},
 "encoding":{"x":{"datum":{"year":2023,"month":10,"date":9,"hours":1,"minutes":26,"utc":true},"type":"temporal","title":null},"y":{"datum":1657.18,"type":"quantitative","title":null},"text":{"field":"txt"}}},
{"data":{"values":[{}]},
 "mark":{"type":"rect","fill":"white","stroke":"#e0e3eb","strokeWidth":1,"cornerRadius":4,"xOffset":4,"x2Offset":54,"yOffset":1,"y2Offset":26},
 "encoding":{"x":{"datum":{"year":2023,"month":10,"date":9,"hours":1,"minutes":26,"utc":true},"type":"temporal","title":null},"x2":{"datum":{"year":2023,"month":10,"date":9,"hours":1,"minutes":26,"utc":true}},"y":{"datum":1813.7,"type":"quantitative","title":null},"y2":{"datum":1813.7}}},
{"data":{"values":[{"txt":"USDT"}]},
 "mark":{"type":"text","font":"Roboto","fontSize":11,"color":"#131722","align":"center","baseline":"middle","dx":29,"dy":14},
 "encoding":{"x":{"datum":{"year":2023,"month":10,"date":9,"hours":1,"minutes":26,"utc":true},"type":"temporal","title":null},"y":{"datum":1813.7,"type":"quantitative","title":null},"text":{"field":"txt"}}},
{"data":{"values":[{}]},
 "mark":{"type":"rule","color":"#131722","strokeWidth":1,"y2Offset":28},
 "encoding":{"x":{"datum":{"year":2023,"month":10,"date":9,"hours":1,"minutes":26,"utc":true},"type":"temporal","title":null},"y":{"datum":1540.5,"type":"quantitative","title":null},"y2":{"datum":1540.5}}},
{"data":{"values":[{}]},
 "mark":{"type":"rule","color":"#131722","strokeWidth":1,"x2Offset":59},
 "encoding":{"x":{"datum":{"year":2023,"month":10,"date":9,"hours":1,"minutes":26,"utc":true},"type":"temporal","title":null},"x2":{"datum":{"year":2023,"month":10,"date":9,"hours":1,"minutes":26,"utc":true}},"y":{"datum":1540.5,"type":"quantitative","title":null}}},
{"data":{"values":[{}]},
 "mark":{"type":"rule","color":"#b2b5be","strokeWidth":1,"x2Offset":59,"yOffset":27},
 "encoding":{"x":{"datum":{"year":2023,"month":8,"date":19,"hours":23,"minutes":26,"utc":true},"type":"temporal","title":null},"x2":{"datum":{"year":2023,"month":10,"date":9,"hours":1,"minutes":26,"utc":true}},"y":{"datum":1540.5,"type":"quantitative","title":null}}}
]
}
